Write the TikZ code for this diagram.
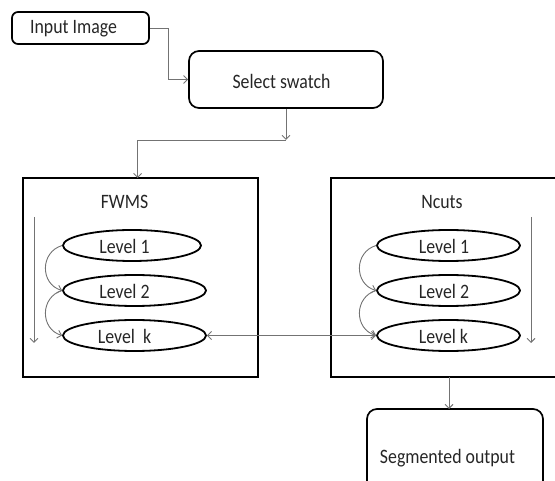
\documentclass[tikz,border=0pt]{standalone}
\usepackage{fontspec}
\setmainfont{Carlito}
\usetikzlibrary{arrows.meta,shapes.geometric}
\newcommand\talltext[1]{\scalebox{1}[1.15]{#1}}
\begin{document}
\begin{tikzpicture}[x=1pt,y=-1pt,
  txt/.style={inner sep=0pt,font=\fontsize{17.8}{20}\selectfont,text=black!85},
  rbox/.style={draw=black,line width=1.7pt,rounded corners=#1,inner sep=0pt},
  bigbox/.style={draw=black,line width=1.9pt,inner sep=0pt},
  lvl/.style={draw=black,line width=1.8pt,ellipse,inner sep=0pt,minimum width=143pt,minimum height=31pt},
  conn/.style={draw=black!55,line width=0.9pt,-{Straight Barb[length=4pt,width=8pt]}},
  connb/.style={draw=black!55,line width=0.9pt,{Straight Barb[length=4pt,width=8pt]}-{Straight Barb[length=4pt,width=8pt]}},
  plain/.style={draw=black!55,line width=0.9pt}]
\useasboundingbox (0,0) rectangle (555,481);
\clip (0,0) rectangle (555,481);
% boxes
\node[rbox=6pt,minimum width=137pt,minimum height=32pt] (in) at (80.5,28) {};
\node[txt] (intxt) at (73.5,29) {\talltext{Input Image}};
\node[rbox=10pt,minimum width=194pt,minimum height=57pt] (sel) at (286,79.5) {};
\node[txt] (seltxt) at (281.5,81) {\talltext{Select swatch}};
\node[bigbox,minimum width=235pt,minimum height=199pt] (fw) at (140.5,277.5) {};
\node[txt] (fwt) at (124.5,202) {\talltext{FWMS}};
\node[bigbox,minimum width=234pt,minimum height=199pt] (nc) at (448,277.5) {};
\node[txt] (nct) at (442,202) {\talltext{Ncuts}};
\node[rbox=10pt,minimum width=176pt,minimum height=91pt] (seg) at (455,454.5) {};
\node[txt] (segtxt) at (447.5,458) {\talltext{Segmented output}};
% FWMS levels
\node[lvl,minimum width=138pt] (f1) at (132,245.5) {};
\node[txt] (f1t) at (124.5,246) {\talltext{Level 1}};
\node[lvl] (f2) at (134.5,290.5) {};
\node[txt] (f2t) at (124.5,291) {\talltext{Level 2}};
\node[lvl] (fk) at (134.5,335.5) {};
\node[txt] (fkt) at (124.5,336) {\talltext{Level\ \ k}};
% Ncuts levels
\node[lvl] (n1) at (448.5,245.5) {};
\node[txt] (n1t) at (444,246) {\talltext{Level 1}};
\node[lvl] (n2) at (448.5,290.5) {};
\node[txt] (n2t) at (444,291) {\talltext{Level 2}};
\node[lvl] (nk) at (448.5,335.5) {};
\node[txt] (nkt) at (443.5,336) {\talltext{Level k}};
% coordinates
\coordinate (c1) at (286,140);
\coordinate (fwin) at (137.6,178);
\coordinate (fa1) at (34,217);
\coordinate (fa2) at (34,343);
\coordinate (na1) at (531,217);
\coordinate (na2) at (531,343);
\coordinate (ncout) at (449,377);
\coordinate (segin) at (449,409);
% connectors
\draw[conn] (in.east) -- ++(19,0) |- (sel.west);
\draw[conn] (sel.south -| c1) -- (c1);
\draw[conn] (c1) -| (fwin);
\draw[conn] (fa1) -- (fa2);
\draw[conn] (na1) -- (na2);
\draw[conn] (f1.west) .. controls (40,252) and (40,284) .. (f2.west);
\draw[conn] (f2.west) .. controls (40,297) and (40,329) .. (fk.west);
\draw[conn] (n1.west) .. controls (354,252) and (354,284) .. (n2.west);
\draw[conn] (n2.west) .. controls (354,297) and (354,329) .. (nk.west);
\draw[connb] (fk.east) -- (nk.west);
\draw[conn] (ncout) -- (segin);
\end{tikzpicture}
\end{document}
